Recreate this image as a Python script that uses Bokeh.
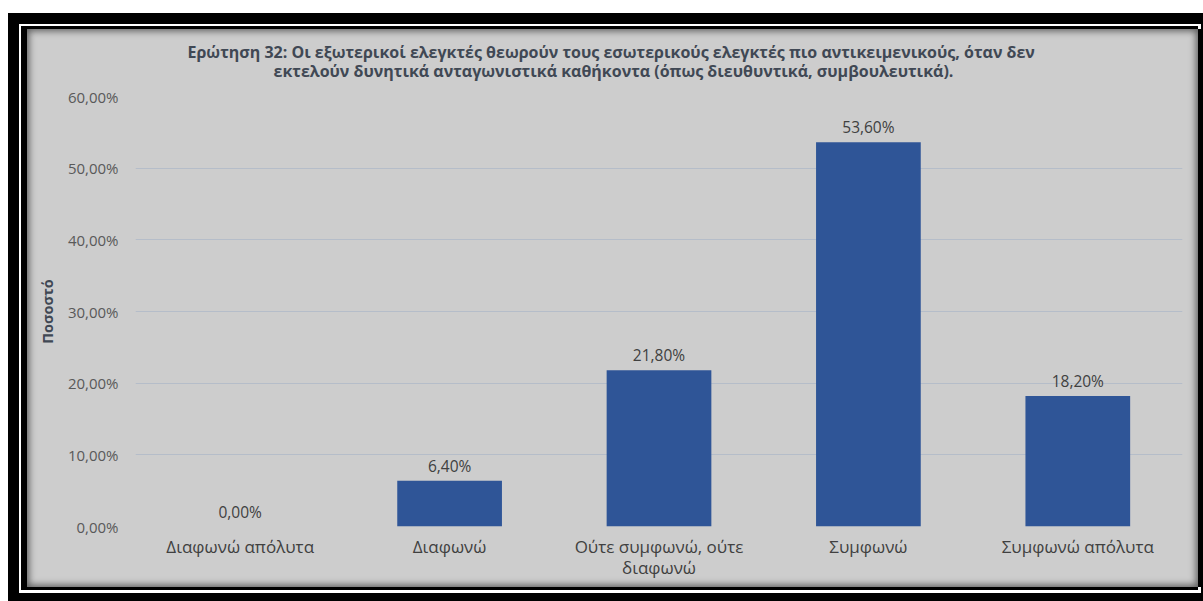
from bokeh.plotting import figure
from bokeh.models import Range1d, FixedTicker, Title, ColumnDataSource
from bokeh.core.properties import value
from bokeh.embed import file_html
from bokeh.resources import INLINE

# ---- data ----
categories = ["Διαφωνώ απόλυτα", "Διαφωνώ", "Ούτε συμφωνώ, ούτε\nδιαφωνώ", "Συμφωνώ", "Συμφωνώ απόλυτα"]
percentages = [0.0, 6.4, 21.8, 53.6, 18.2]
bar_labels = ["0,00%", "6,40%", "21,80%", "53,60%", "18,20%"]
y_ticks = [0, 10, 20, 30, 40, 50, 60]
y_tick_labels = ["0,00%", "10,00%", "20,00%", "30,00%", "40,00%", "50,00%", "60,00%"]
title_lines = [
    "Ερώτηση 32: Οι εξωτερικοί ελεγκτές θεωρούν τους εσωτερικούς ελεγκτές πιο αντικειμενικούς, όταν δεν",
    "εκτελούν δυνητικά ανταγωνιστικά καθήκοντα (όπως διευθυντικά, συμβουλευτικά).",
]
y_axis_title = "Ποσοστό"

FONT = "Open Sans"
PANEL = "#cdcdcd"

p = figure(
    x_range=categories,
    y_range=Range1d(0, 60),
    width=1171,
    height=558,
    output_backend="svg",
    toolbar_location=None,
    min_border_left=108,
    min_border_right=16,
    min_border_top=67,
    min_border_bottom=61,
)
p.styles = {
    "position": "relative",
    "left": "27px",
    "top": "29px",
    "background-color": PANEL,
    "box-shadow": ("inset 0 0 7px 2px rgba(0,0,0,0.55), "
                   "10px 0 0 0 #000000, "
                   "-3px 0 0 3px #000000, "
                   "-2.5px 0.5px 0 5.5px #ffffff, "
                   "41px 44px 0 60px #000000"),
}
p.border_fill_alpha = 0
p.background_fill_alpha = 0
p.outline_line_color = None

src = ColumnDataSource(dict(cat=categories, val=percentages, lab=bar_labels))
p.vbar(x="cat", top="val", width=0.5, source=src, fill_color="#2f5597", line_color=None)
p.text(x="cat", y="val", text="lab", source=src, y_offset=-15,
       text_align="center", text_baseline="middle",
       text_font=value(FONT), text_font_size="15.5px", text_color="#404040")

# grid
p.xgrid.grid_line_color = None
p.ygrid.grid_line_color = "#b5bdc9"
p.ygrid.grid_line_width = 1
p.ygrid.ticker = FixedTicker(ticks=y_ticks)

# y axis
ya = p.yaxis[0]
ya.ticker = FixedTicker(ticks=y_ticks)
ya.major_label_overrides = {t: l for t, l in zip(y_ticks, y_tick_labels)}
ya.axis_line_color = None
ya.major_tick_line_color = None
ya.minor_tick_line_color = None
ya.major_tick_out = 0
ya.major_tick_in = 0
ya.major_label_standoff = 17
ya.major_label_text_font = FONT
ya.major_label_text_font_size = "15px"
ya.major_label_text_color = "#595959"
ya.axis_label = y_axis_title
ya.axis_label_text_font = FONT
ya.axis_label_text_font_style = "bold"
ya.axis_label_text_font_size = "14.5px"
ya.axis_label_text_color = "#404854"
ya.axis_label_standoff = 8

# x axis
xa = p.xaxis[0]
xa.axis_line_color = None
xa.major_tick_line_color = None
xa.minor_tick_line_color = None
xa.major_tick_out = 0
xa.major_tick_in = 0
xa.major_label_standoff = 8
xa.major_label_text_font = FONT
xa.major_label_text_font_size = "17px"
xa.major_label_text_line_height = 0.95
xa.major_label_text_color = "#404040"

# title: second line first (closest to the plot), then first line above it
for line, off, so in ((title_lines[1], 138, 29), (title_lines[0], 52, -38)):
    p.add_layout(Title(
        text=line, align="left", offset=off, standoff=so,
        text_font=FONT, text_font_style="bold", text_font_size="16px",
        text_color="#404854",
    ), "above")

open("out.html", "w").write(file_html(p, INLINE))
